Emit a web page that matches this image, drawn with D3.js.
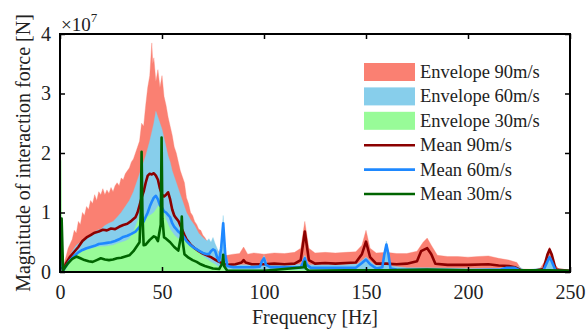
<!DOCTYPE html>
<html><head><meta charset="utf-8">
<script src="https://cdn.jsdelivr.net/npm/d3@7"></script>
<style>body{margin:0;background:#fff}svg{display:block}</style>
</head><body><svg id="c" width="586" height="331"></svg>
<script>
// ---- data (values in units of 1e7 N) ----
const env90F = [0,0.5,1.5,2.5,4,6,7,8,9,10,11,12,13,14,15,16,17,18,19,20,21,22,23,24,25,26,27,28,29,30,31,32,33,34,35,36,37,38,39,40,41,42,43,44,45,45.5,46,47,48,49,50,51,52,53,54,55,56,57,58,59,60,61,62,63,64,65,66,67,68,69,70,71,72,73,74,75,76,77,78,79,80,82,85,88,90,92,95,100,105,110,115,118,120,122,125,130,135,140,145,148,150,152,155,160,165,170,175,178,180,182,185,190,195,200,205,210,215,220,224,226,235,238,240,242,245,250];
const env90V = [0.05,0.6,0.05,0.2,0.4,0.55,0.7,0.65,0.85,0.8,1.0,0.95,1.1,1.05,1.2,1.15,1.3,1.2,1.35,1.3,1.4,1.3,1.38,1.32,1.42,1.35,1.45,1.5,1.45,1.58,1.55,1.65,1.7,1.75,1.85,1.9,2.0,2.1,2.2,2.5,2.45,2.8,3.1,3.3,3.85,3.5,3.6,3.2,3.4,3.1,3.3,2.95,2.8,2.6,2.45,2.3,2.1,2.0,1.85,1.7,1.6,1.5,1.25,1.15,1.0,0.95,0.85,0.8,0.72,0.7,0.62,0.58,0.52,0.5,0.45,0.45,0.4,0.38,0.33,0.3,0.3,0.28,0.3,0.31,0.42,0.3,0.32,0.3,0.32,0.31,0.33,0.4,0.85,0.4,0.32,0.33,0.32,0.33,0.34,0.45,0.7,0.4,0.32,0.33,0.31,0.31,0.35,0.5,0.57,0.45,0.28,0.26,0.26,0.25,0.26,0.27,0.23,0.2,0.16,0.05,0.04,0.2,0.42,0.15,0.03,0.02];

const env60F = [0,0.5,1.5,2.5,4,6,8,10,12,14,16,18,20,22,24,26,28,30,32,34,36,38,40,42,44,45,46,47,48,49,50,51,52,53,54,55,56,57,58,59,60,61,62,64,66,68,70,72,73,74,75,76,77,78,79,80,81,83,90,98,100,102,110,118,120,122,130,140,146,150,154,158,160,162,170,180,200,215,220,225,228,238,240,242,245,250];
const env60V = [0.05,0.5,0.03,0.12,0.22,0.35,0.45,0.5,0.55,0.6,0.63,0.7,0.72,0.78,0.82,0.85,0.92,1.0,1.1,1.2,1.35,1.55,1.75,1.95,2.2,2.35,2.5,2.7,2.6,2.5,2.4,2.25,2.1,1.95,1.85,1.7,1.6,1.5,1.4,1.3,1.2,1.1,1.0,0.88,0.78,0.65,0.58,0.52,0.56,0.5,0.58,0.48,0.4,0.3,0.5,0.95,0.3,0.12,0.12,0.12,0.28,0.12,0.12,0.13,0.28,0.12,0.12,0.12,0.14,0.25,0.12,0.1,0.52,0.1,0.07,0.07,0.06,0.06,0.09,0.09,0.03,0.08,0.28,0.06,0.02,0.02];

const env30F = [0,0.5,1,1.5,2.5,4,6,8,10,12,14,16,18,20,22,24,26,28,30,32,34,36,38,39,40,41,42,44,46,48,49,50,51,52,54,56,58,60,62,64,66,68,70,72,74,76,78,80,82,250];
const env30V = [0.1,1.88,0.3,0.03,0.08,0.15,0.25,0.31,0.34,0.36,0.38,0.4,0.42,0.43,0.43,0.44,0.45,0.48,0.5,0.52,0.56,0.68,0.85,0.95,1.0,0.9,0.92,0.95,1.0,1.1,1.15,1.1,1.0,0.88,0.72,0.62,0.56,0.58,0.5,0.45,0.4,0.33,0.27,0.22,0.17,0.13,0.08,0.1,0.04,0.03];

const mean90F = [0,0.5,1.5,3,5,7,9,11,13,15,17,19,21,23,25,27,29,31,33,35,37,38,39,40,41,42,43,44,45,46,47,48,49,50,51,52,53,54,55,56,57,58,59,60,61,62,64,66,68,70,72,74,76,78,80,82,86,89,90,91,94,100,105,110,115,118,120,122,125,130,135,140,145,148,150,152,155,160,165,170,175,177,180,182,184,190,200,210,215,220,223,226,232,237,239,240,241,243,250];
const mean90V = [0.05,0.5,0.02,0.15,0.26,0.34,0.42,0.52,0.58,0.62,0.66,0.68,0.71,0.7,0.73,0.72,0.76,0.79,0.81,0.86,0.92,1.0,1.12,1.25,1.35,1.5,1.62,1.65,1.64,1.66,1.62,1.55,1.4,1.3,1.27,1.3,1.34,1.22,1.05,0.95,0.9,0.86,0.78,0.7,0.62,0.55,0.46,0.4,0.35,0.31,0.28,0.25,0.21,0.17,0.14,0.12,0.13,0.16,0.2,0.16,0.13,0.13,0.14,0.13,0.14,0.2,0.68,0.2,0.14,0.15,0.14,0.15,0.16,0.3,0.51,0.25,0.14,0.14,0.13,0.14,0.18,0.35,0.4,0.3,0.14,0.12,0.12,0.13,0.11,0.1,0.08,0.03,0.02,0.05,0.3,0.38,0.3,0.04,0.02];

const mean60F = [0,0.5,1.5,3,5,7,9,11,13,15,17,19,21,23,25,27,29,31,33,35,37,39,41,43,44,45,46,47,48,49,50,51,52,53,54,55,56,57,58,59,60,62,64,66,68,70,72,73,74,75,76,77,78,79,80,81,82,85,95,98,99,100,101,103,118,119,120,121,123,145,148,150,152,155,158,159,160,161,162,165,200,216,219,223,226,237,239,240,241,243,250];
const mean60V = [0.04,0.4,0.02,0.1,0.2,0.27,0.33,0.37,0.4,0.42,0.44,0.47,0.48,0.49,0.5,0.52,0.55,0.59,0.61,0.64,0.68,0.76,0.85,1.0,1.1,1.18,1.25,1.28,1.22,1.12,1.08,1.02,1.0,0.96,0.92,0.82,0.76,0.72,0.68,0.65,0.62,0.52,0.45,0.4,0.36,0.32,0.3,0.3,0.35,0.38,0.36,0.25,0.18,0.4,0.82,0.3,0.1,0.08,0.08,0.09,0.18,0.23,0.12,0.08,0.08,0.15,0.23,0.12,0.07,0.07,0.15,0.21,0.13,0.06,0.08,0.3,0.46,0.3,0.06,0.04,0.03,0.04,0.07,0.07,0.02,0.03,0.18,0.25,0.18,0.02,0.01];

const mean30F = [0,0.4,0.8,1.5,2.5,4,6,8,10,12,14,16,18,20,22,24,26,28,30,32,34,36,38,39,39.6,40,40.4,41,42,44,46,47,48,49.4,49.8,50.2,51,52,54,56,58,59.3,59.7,60.2,61,63,65,67,69,71,73,75,78,79.6,80,80.4,82,100,119.5,120,120.5,122,140,160,180,200,240,250];
const mean30V = [0.05,0.9,0.9,0.03,0.08,0.15,0.22,0.26,0.23,0.2,0.18,0.17,0.2,0.23,0.21,0.2,0.21,0.23,0.24,0.26,0.28,0.35,0.45,0.5,1.0,2.02,1.0,0.45,0.46,0.54,0.6,0.58,0.52,0.8,2.26,0.9,0.58,0.56,0.5,0.42,0.36,0.6,0.93,0.5,0.3,0.24,0.2,0.17,0.13,0.1,0.08,0.06,0.05,0.15,0.29,0.1,0.02,0.02,0.08,0.17,0.06,0.02,0.03,0.03,0.04,0.03,0.03,0.02];

const xTicks = [0,50,100,150,200,250];
const yTicks = [0,1,2,3,4];
const legendLabels = ["Envelope 90m/s","Envelope 60m/s","Envelope 30m/s","Mean 90m/s","Mean 60m/s","Mean 30m/s"];

// ---- drawing ----
const svg = d3.select("#c");
const L=60,R=570,T=34,B=272;
const x = d3.scaleLinear().domain([0,250]).range([L,R]);
const y = d3.scaleLinear().domain([0,4]).range([B,T]);
const font = "'Liberation Serif', 'Times New Roman', Times, 'DejaVu Serif', serif";

svg.append("clipPath").attr("id","pc").append("rect").attr("x",L).attr("y",T).attr("width",R-L).attr("height",B-T);
const g = svg.append("g").attr("clip-path","url(#pc)");

const zip = (F,V)=>F.map((f,i)=>[f,V[i]]);
const area = d3.area().x(d=>x(d[0])).y0(y(0)).y1(d=>y(d[1]));
const line = d3.line().x(d=>x(d[0])).y(d=>y(d[1]));

const envs = [[env90F,env90V,"#fa8072"],[env60F,env60V,"#87ceeb"],[env30F,env30V,"#98fb98"]];
envs.forEach(([F,V,c])=>{
  g.append("path").datum(zip(F,V)).attr("d",area).attr("fill",c).attr("stroke",c).attr("stroke-width",0.6).attr("stroke-opacity",0.6);
});
const means = [[mean90F,mean90V,"#8b0000"],[mean60F,mean60V,"#1e88ff"],[mean30F,mean30V,"#006400"]];
means.forEach(([F,V,c])=>{
  g.append("path").datum(zip(F,V)).attr("d",line).attr("fill","none").attr("stroke",c).attr("stroke-width",2.6).attr("stroke-linejoin","round");
});

// axes
const ax = (a)=>a.call(s=>{s.select(".domain").remove();s.selectAll("text").style("font-family",font).attr("font-size",20).attr("fill","#222");s.selectAll("line").attr("stroke","#000").attr("stroke-width",1.5);});
svg.append("g").attr("transform",`translate(0,${B})`).call(d3.axisBottom(x).tickValues(xTicks).tickSize(-5).tickPadding(13).tickFormat(d3.format("d"))).call(ax);
svg.append("g").attr("transform",`translate(0,${T})`).call(d3.axisTop(x).tickValues(xTicks).tickSize(-5).tickFormat("")).call(ax);
svg.append("g").attr("transform",`translate(${L},0)`).call(d3.axisLeft(y).tickValues(yTicks).tickSize(-5).tickPadding(9).tickFormat(d3.format("d"))).call(ax);
svg.append("g").attr("transform",`translate(${R},0)`).call(d3.axisRight(y).tickValues(yTicks).tickSize(-5).tickFormat("")).call(ax);
svg.append("rect").attr("x",L).attr("y",T).attr("width",R-L).attr("height",B-T).attr("fill","none").attr("stroke","#000").attr("stroke-width",2);

// multiplier
const m = svg.append("text").attr("x",61).attr("y",31).style("font-family",font).attr("font-size",19).attr("fill","#222");
m.append("tspan").text("×10");
m.append("tspan").attr("dy",-9).attr("font-size",13).text("7");

// axis labels
svg.append("text").attr("x",315).attr("y",324).attr("text-anchor","middle").style("font-family",font).attr("font-size",20).attr("fill","#222").text("Frequency [Hz]");
svg.append("text").attr("transform","translate(30,153) rotate(-90)").attr("text-anchor","middle").style("font-family",font).attr("font-size",20).attr("fill","#222").text("Magnitude of interaction force [N]");

// legend
const lg = svg.append("g");
const lcolors = ["#fa8072","#87ceeb","#98fb98","#8b0000","#1e88ff","#006400"];
legendLabels.forEach((t,i)=>{
  const cy = 72 + i*24.4;
  if(i<3) lg.append("rect").attr("x",364).attr("y",cy-9).attr("width",51).attr("height",18).attr("fill",lcolors[i]);
  else lg.append("line").attr("x1",364).attr("x2",415).attr("y1",cy).attr("y2",cy).attr("stroke",lcolors[i]).attr("stroke-width",2.6);
  lg.append("text").attr("x",420).attr("y",cy+6).style("font-family",font).attr("font-size",18.5).attr("fill","#222").text(t);
});
</script></body></html>
